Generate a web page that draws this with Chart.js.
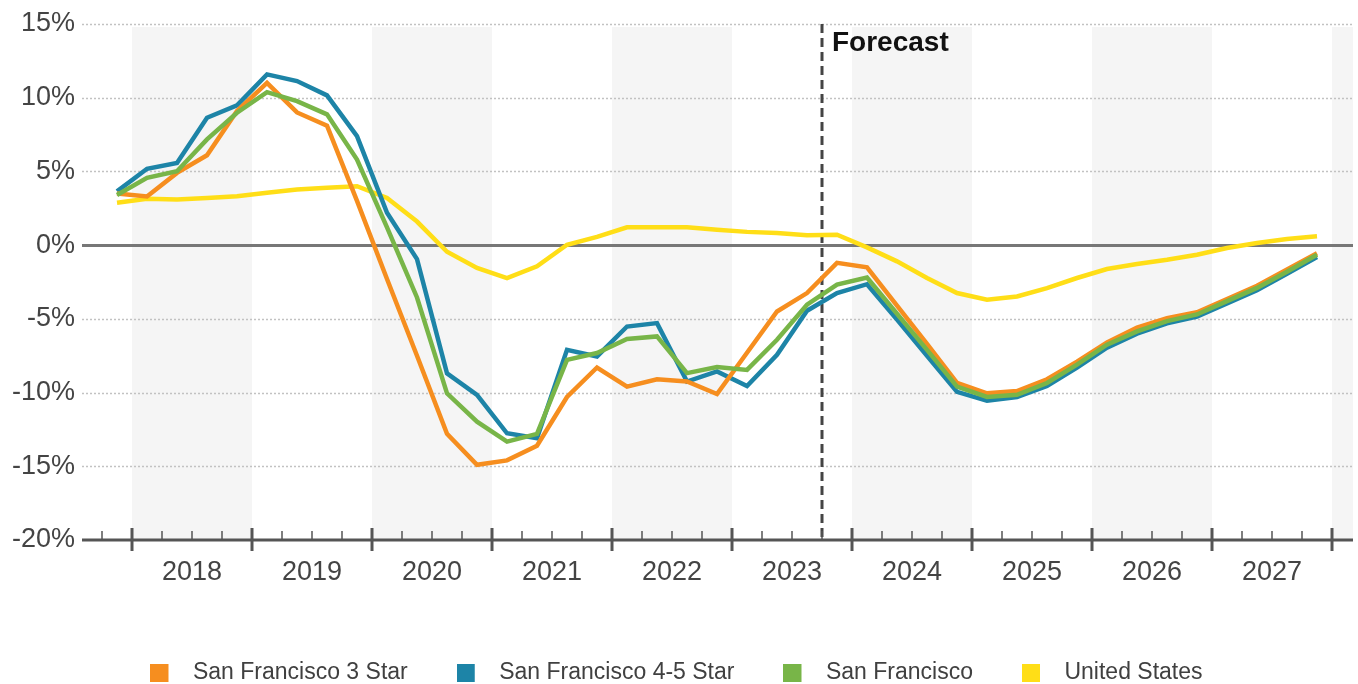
<!DOCTYPE html>
<html>
<head>
<meta charset="utf-8">
<script src="https://cdn.jsdelivr.net/npm/chart.js"></script>
<style>
    body { margin: 0; background: #fff; }
    #wrap { width: 1358px; height: 684px; }
</style>
</head>
<body>
<div id="wrap"><canvas id="rentChart" width="1358" height="684"></canvas></div>
<script>
// Data (annual % change, quarterly, 2017 Q4 - 2027 Q4)
var yearLabels = ['2018', '2019', '2020', '2021', '2022', '2023', '2024', '2025', '2026', '2027'];
var quarters = ['2017 Q4'];
yearLabels.forEach(function(y) {
    ['Q1', 'Q2', 'Q3', 'Q4'].forEach(function(q) { quarters.push(y + ' ' + q); });
});
var forecastStart = '2023 Q4';

var sf3Star = [3.5, 3.3, 4.9, 6.1, 9.1, 11.0, 9.0, 8.1, 3.0, -2.3, -7.5, -12.8, -14.9, -14.6, -13.6, -10.3, -8.3, -9.6, -9.1, -9.25, -10.1, -7.3, -4.5, -3.25, -1.2, -1.5, -4.1, -6.7, -9.35, -10.05, -9.9, -9.1, -7.9, -6.6, -5.6, -4.95, -4.55, -3.65, -2.75, -1.65, -0.55];
var sf45Star = [3.65, 5.18, 5.58, 8.64, 9.48, 11.58, 11.13, 10.16, 7.39, 2.2, -0.95, -8.7, -10.16, -12.76, -13.1, -7.1, -7.55, -5.52, -5.29, -9.25, -8.57, -9.55, -7.44, -4.45, -3.25, -2.65, -5.05, -7.5, -9.95, -10.55, -10.3, -9.55, -8.3, -6.95, -6.0, -5.3, -4.85, -3.95, -3.05, -1.95, -0.8];
var sfAll = [3.4, 4.56, 5.01, 7.17, 8.98, 10.38, 9.77, 8.87, 5.81, 1.2, -3.55, -10.05, -11.97, -13.33, -12.8, -7.78, -7.32, -6.37, -6.19, -8.68, -8.27, -8.46, -6.42, -4.04, -2.68, -2.2, -4.65, -7.1, -9.6, -10.3, -10.15, -9.35, -8.1, -6.75, -5.85, -5.15, -4.7, -3.8, -2.9, -1.8, -0.65];
var unitedStates = [2.87, 3.14, 3.09, 3.2, 3.32, 3.55, 3.77, 3.89, 4.0, 3.2, 1.6, -0.45, -1.55, -2.23, -1.44, 0.03, 0.56, 1.21, 1.21, 1.21, 1.05, 0.9, 0.83, 0.67, 0.71, -0.15, -1.1, -2.23, -3.25, -3.7, -3.48, -2.91, -2.23, -1.62, -1.28, -0.99, -0.65, -0.19, 0.15, 0.42, 0.6];
var yTicks = [-20, -15, -10, -5, 0, 5, 10, 15];

var FONT = '"Liberation Sans", Arial, sans-serif';

// quarter label -> decimal year at the middle of the quarter
function quarterPos(label) {
    var p = label.split(' Q');
    return Number(p[0]) + (Number(p[1]) - 0.5) / 4;
}
function quarterStart(label) {
    var p = label.split(' Q');
    return Number(p[0]) + (Number(p[1]) - 1) / 4;
}
function toPoints(values) {
    return values.map(function(v, i) { return { x: quarterPos(quarters[i]), y: v }; });
}

// legend swatch: coloured block plus empty room before the text
function swatch(color) {
    var c = document.createElement('canvas');
    c.width = 31;
    c.height = 18;
    var g = c.getContext('2d');
    g.fillStyle = color;
    g.fillRect(0, 0, 18, 18);
    return c;
}

function series(label, values, color, order) {
    return {
        label: label,
        data: toPoints(values),
        borderColor: color,
        backgroundColor: color,
        borderWidth: 4.5,
        pointRadius: 0,
        pointStyle: swatch(color),
        tension: 0,
        order: order
    };
}

// Background bands, grid lines, x axis and forecast marker
var decorPlugin = {
    id: 'decor',
    beforeDatasetsDraw: function(chart) {
        var ctx = chart.ctx, area = chart.chartArea;
        var x = chart.scales.x, y = chart.scales.y;
        ctx.save();
        // alternate year bands
        var years = yearLabels.map(Number).concat([Number(yearLabels[yearLabels.length - 1]) + 1]);
        ctx.fillStyle = '#f5f5f5';
        years.forEach(function(yr, i) {
            if (i % 2 !== 0) return;
            var x1 = Math.max(x.getPixelForValue(yr), area.left);
            var x2 = Math.min(x.getPixelForValue(yr + 1), area.right);
            ctx.fillRect(x1, area.top + 3, x2 - x1, area.bottom - area.top - 3);
        });
        // horizontal grid
        yTicks.forEach(function(t) {
            if (t === yTicks[0]) return;
            var py = Math.round(y.getPixelForValue(t)) + 0.5;
            ctx.beginPath();
            if (t === 0) {
                ctx.setLineDash([]);
                ctx.strokeStyle = '#777777';
                ctx.lineWidth = 3;
            } else {
                ctx.setLineDash([2, 2]);
                ctx.strokeStyle = '#c2c2c2';
                ctx.lineWidth = 1.5;
            }
            ctx.moveTo(area.left, py);
            ctx.lineTo(area.right, py);
            ctx.stroke();
        });
        // forecast divider
        var fx = Math.round(x.getPixelForValue(quarterStart(forecastStart)));
        ctx.setLineDash([9, 5]);
        ctx.strokeStyle = '#444444';
        ctx.lineWidth = 3;
        ctx.beginPath();
        ctx.moveTo(fx, area.top);
        ctx.lineTo(fx, area.bottom);
        ctx.stroke();
        ctx.setLineDash([]);
        ctx.fillStyle = '#111111';
        ctx.font = 'bold 28px ' + FONT;
        ctx.textBaseline = 'middle';
        ctx.textAlign = 'left';
        ctx.fillText('Forecast', fx + 10, area.top + 19);
        ctx.restore();
    },
    afterDraw: function(chart) {
        var ctx = chart.ctx, area = chart.chartArea;
        var x = chart.scales.x;
        var by = Math.round(area.bottom);
        ctx.save();
        ctx.strokeStyle = '#555555';
        ctx.lineWidth = 3;
        ctx.beginPath();
        ctx.moveTo(area.left, by);
        ctx.lineTo(area.right, by);
        ctx.stroke();
        // quarter ticks, year ticks longer
        var first = Number(yearLabels[0]) - 0.25;
        var last = Number(yearLabels[yearLabels.length - 1]) + 1;
        for (var q = first; q <= last + 0.001; q += 0.25) {
            var px = Math.round(x.getPixelForValue(q));
            var major = Math.abs(q - Math.round(q)) < 0.001;
            ctx.beginPath();
            ctx.lineWidth = major ? 3 : 1.5;
            ctx.moveTo(px, by - (major ? 12 : 9));
            ctx.lineTo(px, by + (major ? 11 : 0));
            ctx.stroke();
        }
        ctx.restore();
    }
};

var ctx = document.getElementById('rentChart').getContext('2d');
new Chart(ctx, {
    type: 'line',
    data: {
        datasets: [
            series('San Francisco 3 Star', sf3Star, '#F68E1F', 1),
            series('San Francisco 4-5 Star', sf45Star, '#1D84A7', 2),
            series('San Francisco', sfAll, '#78B548', 0),
            series('United States', unitedStates, '#FFDE17', 3)
        ]
    },
    options: {
        responsive: false,
        animation: false,
        events: [],
        layout: { padding: { top: 24, right: 5, left: 0, bottom: -10 } },
        scales: {
            x: {
                type: 'linear',
                min: quarterPos(quarters[0]) - 0.2917,
                max: quarterPos(quarters[0]) + 10.3,
                grid: { display: false },
                border: { display: false },
                afterBuildTicks: function(scale) {
                    scale.ticks = yearLabels.map(function(y) { return { value: Number(y) + 0.5 }; });
                },
                afterFit: function(scale) { scale.height = 72; },
                ticks: {
                    autoSkip: false,
                    maxRotation: 0,
                    padding: 8,
                    color: '#444444',
                    font: { family: FONT, size: 27 },
                    callback: function(value, index) { return yearLabels[index]; }
                }
            },
            y: {
                min: yTicks[0],
                max: yTicks[yTicks.length - 1],
                grid: { display: false, drawTicks: false },
                border: { display: false },
                afterBuildTicks: function(scale) {
                    scale.ticks = yTicks.map(function(v) { return { value: v }; });
                },
                afterFit: function(scale) { scale.width = 82; },
                ticks: {
                    padding: 7,
                    color: '#444444',
                    font: { family: FONT, size: 27 },
                    callback: function(value) { return value + '%'; }
                }
            }
        },
        plugins: {
            legend: {
                position: 'bottom',
                labels: {
                    usePointStyle: true,
                    pointStyleWidth: 31,
                    boxHeight: 18,
                    padding: 49,
                    color: '#404040',
                    font: { family: FONT, size: 23 },
                    sort: function(a, b) { return a.datasetIndex - b.datasetIndex; }
                }
            },
            tooltip: { enabled: false }
        }
    },
    plugins: [decorPlugin]
});
</script>
</body>
</html>
